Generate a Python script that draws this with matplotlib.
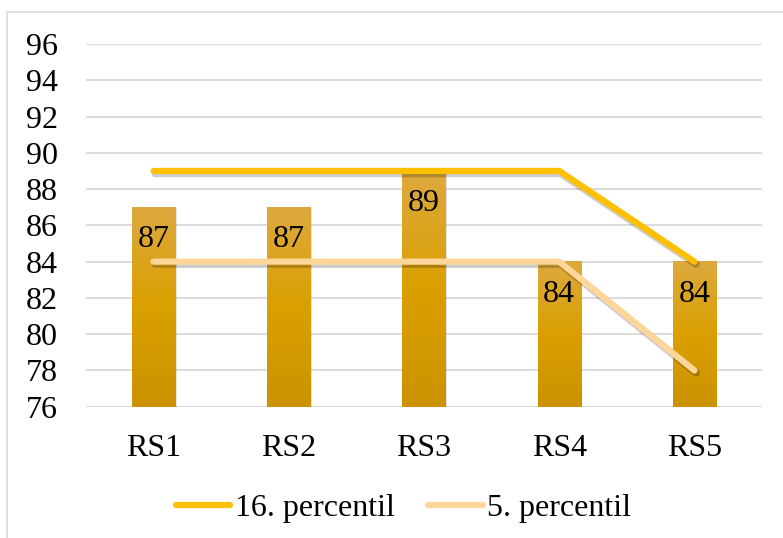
import matplotlib
matplotlib.use("Agg")
import matplotlib.pyplot as plt
import matplotlib.patheffects as pe
from matplotlib.patches import Rectangle
from matplotlib.colors import LinearSegmentedColormap
import numpy as np

categories = ["RS1", "RS2", "RS3", "RS4", "RS5"]
bar_values = [87, 87, 89, 84, 84]
p16 = [89, 89, 89, 89, 84]
p5 = [84, 84, 84, 84, 78]
yticks = [76, 78, 80, 82, 84, 86, 88, 90, 92, 94, 96]

plt.rcParams['font.family'] = ['Liberation Serif', 'DejaVu Serif']

W, H = 783, 538
FS = 23
fig = plt.figure(figsize=(W / 100, H / 100), dpi=100)
# chart border
fig.patches.append(Rectangle((7 / W, -0.05), 1.2, 1 - 12 / H + 0.05, transform=fig.transFigure,
                             fill=False, edgecolor="#d9d9d9", linewidth=1.2))

ax = fig.add_axes([86 / W, 1 - 406.7 / H, (762 - 86) / W, (406.7 - 44) / H])
x = np.arange(len(categories))
ymin = 76
ax.set_yticks(yticks)
ax.set_yticklabels([str(t) for t in yticks], fontsize=FS)
ax.set_xticks(x)
ax.set_xticklabels(categories, fontsize=FS)
ax.tick_params(length=0)
ax.tick_params(axis='y', pad=20)
ax.tick_params(axis='x', pad=20)
for s in ax.spines.values():
    s.set_visible(False)
ax.grid(axis='y', color="#d9d9d9", linewidth=1.3)
ax.set_axisbelow(True)

bw = 0.32
bars = ax.bar(x, [v - ymin for v in bar_values], bottom=ymin, width=bw, color="none",
              edgecolor="none", zorder=2)
grad = np.linspace(0, 1, 256).reshape(-1, 1)
cmap = LinearSegmentedColormap.from_list("g", ["#CC9200", "#DAA000", "#DDA93F"])
for b, v in zip(bars, bar_values):
    ax.add_patch(Rectangle((b.get_x() + 0.01, ymin), bw, v - ymin - 0.1, color="#000000",
                           alpha=0.10, zorder=1.5, linewidth=0))
    ax.imshow(grad, extent=[b.get_x(), b.get_x() + bw, ymin, v], origin='lower', cmap=cmap,
              aspect='auto', zorder=2)
    ax.annotate(str(v), (b.get_x() + bw / 2, v), xytext=(0, -13), textcoords='offset points',
                ha='center', va='top', fontsize=FS, zorder=5)
ax.set_xlim(-0.5, len(categories) - 0.5)
ax.set_ylim(ymin, 96)

shadow = [pe.SimpleLineShadow(offset=(1.2, -1.8), shadow_color='black', alpha=0.2, linewidth=5.5),
          pe.Normal()]
ax.plot(x, p16, color="#FFC000", linewidth=4.5, solid_capstyle='round', solid_joinstyle='round',
        label="16. percentil", zorder=4, path_effects=shadow)
ax.plot(x, p5, color="#FFD699", linewidth=4.5, solid_capstyle='round', solid_joinstyle='round',
        label="5. percentil", zorder=4, path_effects=shadow)

leg = fig.legend(loc='center', bbox_to_anchor=(403.5 / W, 1 - 508 / H), ncol=2, frameon=False,
                 fontsize=FS, handlelength=1.7, handletextpad=0.15, columnspacing=1.05)
for h in leg.legend_handles:
    h.set_path_effects([])
    h.set_solid_capstyle('round')

fig.savefig("out.png", dpi=100)
